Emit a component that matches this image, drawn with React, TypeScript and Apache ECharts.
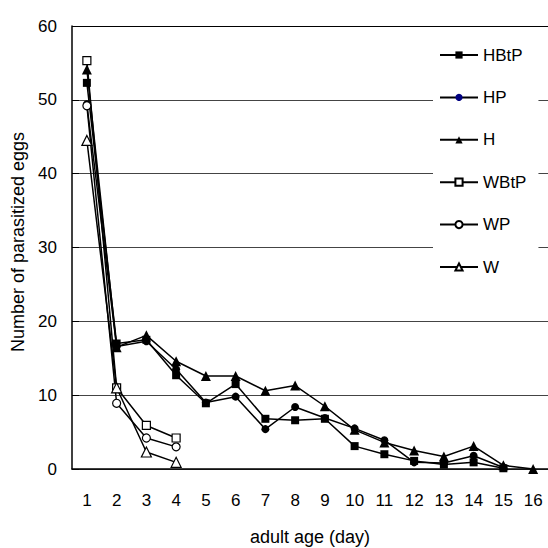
import React, { useEffect, useRef } from "react";
import * as echarts from "echarts";

const categories = ["1","2","3","4","5","6","7","8","9","10","11","12","13","14","15","16"];
const yTicks = [0, 10, 20, 30, 40, 50, 60];

const hbtp = [52.3, 17.0, 17.5, 12.7, 8.9, 11.5, 6.8, 6.6, 6.8, 3.1, 2.0, 1.1, 0.6, 0.9, 0.1];
const hp = [49.4, 16.6, 17.3, 13.5, 9.0, 9.8, 5.4, 8.4, 6.9, 5.5, 3.9, 0.9, 0.8, 1.8, 0.2];
const h = [54.1, 16.5, 18.1, 14.6, 12.6, 12.6, 10.6, 11.3, 8.5, 5.3, 3.6, 2.5, 1.7, 3.1, 0.5, 0];
const wbtp = [55.3, 11.0, 5.9, 4.2];
const wp = [49.2, 8.9, 4.2, 3.0];
const w = [44.5, 11.0, 2.3, 0.9];

const FONT = "Liberation Sans, Arial, sans-serif";

export default function App() {
  const ref = useRef<HTMLDivElement>(null);
  useEffect(() => {
    const chart = echarts.init(ref.current!, null, { renderer: "svg" });
    const mk = (name: string, data: number[], symbol: string, size: number, hollow: boolean) => ({
      name,
      type: "line",
      data,
      symbol,
      symbolSize: size,
      showSymbol: true,
      lineStyle: { color: "#000", width: 1.5 },
      itemStyle: hollow
        ? { color: "#fff", borderColor: "#000", borderWidth: 1.2 }
        : { color: "#000", borderColor: "#000", borderWidth: 0 },
      emphasis: { disabled: true },
    });
    chart.setOption({
      animation: false,
      grid: { left: 72, top: 26, right: -2, bottom: 79, containLabel: false },
      xAxis: {
        type: "category",
        data: categories,
        boundaryGap: true,
        axisLine: { lineStyle: { color: "#000", width: 1.5 } },
        axisTick: { inside: true, length: 6, lineStyle: { color: "#000" } },
        axisLabel: { color: "#000", fontSize: 17, fontFamily: FONT, margin: 23 },
      },
      yAxis: {
        type: "value",
        min: yTicks[0],
        max: yTicks[yTicks.length - 1],
        interval: 10,
        axisLine: { show: true, lineStyle: { color: "#000", width: 1.5 } },
        axisTick: { show: true, inside: true, length: 7, lineStyle: { color: "#000" } },
        axisLabel: { color: "#000", fontSize: 17, fontFamily: FONT, margin: 15 },
        splitLine: {
          show: true,
          lineStyle: { color: ["#444", "#444", "#444", "#444", "#444", "#444", "#000"], width: 1 },
        },
      },
      legend: {
        orient: "vertical",
        left: 433,
        top: 36,
        padding: [10, 12, 10, 6],
        backgroundColor: "#fff",
        itemWidth: 38,
        itemHeight: 9,
        itemGap: 24.4,
        textStyle: { color: "#000", fontSize: 17, fontFamily: FONT, lineHeight: 18 },
        data: [
          { name: "HBtP" },
          { name: "HP", itemStyle: { color: "#000080" } },
          { name: "H" },
          { name: "WBtP" },
          { name: "WP" },
          { name: "W" },
        ],
      },
      graphic: [
        {
          type: "text",
          x: 18,
          y: 242,
          rotation: Math.PI / 2,
          style: {
            text: "Number of parasitized eggs",
            fill: "#000",
            font: `18px ${FONT}`,
            textAlign: "center",
            textVerticalAlign: "middle",
          },
        },
        {
          type: "text",
          x: 310,
          y: 537,
          style: {
            text: "adult age (day)",
            fill: "#000",
            font: `18px ${FONT}`,
            textAlign: "center",
            textVerticalAlign: "middle",
          },
        },
      ],
      series: [
        mk("HBtP", hbtp, "rect", 8, false),
        mk("HP", hp, "circle", 8, false),
        mk("H", h, "triangle", 10, false),
        mk("WBtP", wbtp, "rect", 8, true),
        mk("WP", wp, "circle", 8, true),
        mk("W", w, "triangle", 10, true),
      ],
    });
    return () => chart.dispose();
  }, []);
  return <div ref={ref} style={{ width: 548, height: 548, position: "absolute", left: 0, top: 0 }} />;
}
